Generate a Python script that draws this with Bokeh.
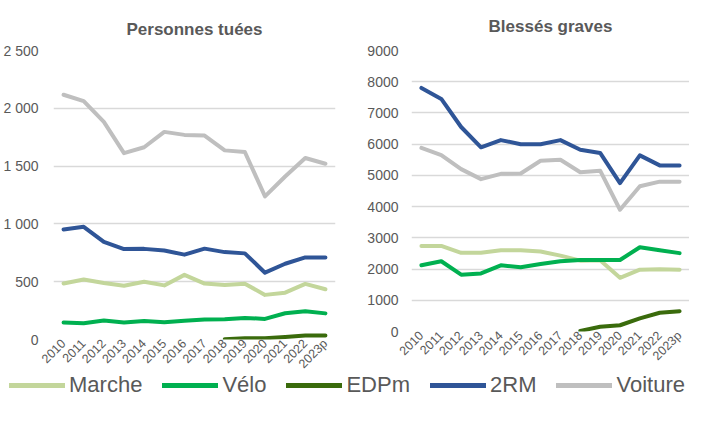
import math
from bokeh.plotting import figure
from bokeh.models import FactorRange, Range1d, Legend, LegendItem, FixedTicker, ColumnDataSource
from bokeh.layouts import column, row
from bokeh.embed import file_html
from bokeh.resources import INLINE

years = ["2010", "2011", "2012", "2013", "2014", "2015", "2016", "2017",
         "2018", "2019", "2020", "2021", "2022", "2023p"]
nan = float("nan")

series_names = ["Marche", "Vélo", "EDPm", "2RM", "Voiture"]
series_colors = ["#c3d69b", "#00b050", "#3a6b0c", "#2f5597", "#bfbfbf"]

# Personnes tuées
tues_marche = [485, 519, 489, 465, 499, 468, 559, 484, 471, 483, 386, 405, 481, 435]
tues_velo = [147, 141, 164, 147, 159, 149, 162, 173, 175, 187, 178, 227, 245, 226]
tues_edpm = [nan, nan, nan, nan, nan, nan, nan, nan, 2, 10, 10, 22, 34, 35]
tues_2rm = [952, 975, 845, 782, 784, 770, 734, 786, 756, 745, 578, 655, 710, 710]
tues_voiture = [2117, 2062, 1882, 1612, 1663, 1796, 1770, 1764, 1636, 1622, 1238, 1410, 1570, 1520]
tues_ticks = [0, 500, 1000, 1500, 2000, 2500]
tues_tick_labels = ["0", "500", "1 000", "1 500", "2 000", "2 500"]

# Blessés graves
bg_marche = [2740, 2740, 2520, 2520, 2600, 2600, 2560, 2430, 2270, 2280, 1720, 1980, 1990, 1980]
bg_velo = [2120, 2250, 1820, 1860, 2120, 2060, 2160, 2250, 2290, 2290, 2290, 2700, 2600, 2510]
bg_edpm = [nan, nan, nan, nan, nan, nan, nan, nan, 20, 150, 200, 420, 600, 650]
bg_2rm = [7800, 7450, 6550, 5900, 6130, 6000, 6000, 6130, 5820, 5720, 4750, 5640, 5320, 5320]
bg_voiture = [5880, 5650, 5200, 4880, 5050, 5060, 5470, 5500, 5100, 5150, 3900, 4650, 4800, 4800]
bg_ticks = [0, 1000, 2000, 3000, 4000, 5000, 6000, 7000, 8000, 9000]
bg_tick_labels = [str(t) for t in bg_ticks]

FONT = "Liberation Sans"
GREY = "#595959"


def make_panel(title, series, ymax, ticks, labels, fw, fh, right, standoff, ylab_standoff):
    p = figure(x_range=FactorRange(*years), y_range=Range1d(0, ymax),
               frame_width=fw, frame_height=fh, output_backend="svg", toolbar_location=None,
               min_border_left=0, min_border_right=right, min_border_top=0, min_border_bottom=0)
    p.title.text = title
    p.title.align = "center"
    p.title.text_font = FONT
    p.title.text_font_size = "17px"
    p.title.text_font_style = "bold"
    p.title.text_color = GREY
    p.title.standoff = standoff
    p.outline_line_color = None
    p.xgrid.grid_line_color = None
    p.ygrid.grid_line_color = "#d9d9d9"
    p.ygrid.grid_line_width = 1.5
    p.yaxis.ticker = FixedTicker(ticks=ticks)
    p.yaxis.major_label_overrides = {t: l for t, l in zip(ticks, labels)}
    for ax in (p.xaxis, p.yaxis):
        ax.axis_label = None
        ax.axis_line_color = None
        ax.major_tick_line_color = None
        ax.minor_tick_line_color = None
        ax.major_tick_out = 0
        ax.major_tick_in = 0
        ax.minor_tick_out = 0
        ax.axis_label_standoff = 0
        ax.major_label_text_font = FONT
        ax.major_label_text_color = GREY
    p.yaxis.major_label_text_font_size = "14px"
    p.yaxis.major_label_standoff = ylab_standoff
    p.xaxis.major_label_text_font_size = "12.5px"
    p.xaxis.major_label_orientation = math.pi / 4
    p.xaxis.major_label_standoff = 2
    for vals, color in zip(series, series_colors):
        src = ColumnDataSource(dict(x=years, y=vals))
        p.line("x", "y", source=src, line_color=color, line_width=4, line_join="round", line_cap="round")
    return p


p1 = make_panel("Personnes tuées",
                [tues_marche, tues_velo, tues_edpm, tues_2rm, tues_voiture],
                2500, tues_ticks, tues_tick_labels, 282, 289, 29, 24, 15)
p2 = make_panel("Blessés graves",
                [bg_marche, bg_velo, bg_edpm, bg_2rm, bg_voiture],
                9000, bg_ticks, bg_tick_labels, 278, 281, 0, 29, 13)

# Legend strip
pl = figure(width=694, height=24, output_backend="svg", toolbar_location=None,
            min_border=0, x_range=Range1d(0, 1), y_range=Range1d(0, 1))
pl.axis.visible = False
pl.grid.visible = False
pl.outline_line_color = None
items = []
for name, color in zip(series_names, series_colors):
    r = pl.line(x=[5, 6], y=[5, 6], line_color=color, line_width=5, line_cap="round")
    items.append(LegendItem(label=name, renderers=[r]))
leg = Legend(items=items, orientation="horizontal", location="center",
             glyph_width=56, glyph_height=20, label_height=20, label_standoff=4, spacing=20,
             label_text_font=FONT, label_text_font_size="22px",
             label_text_color=GREY, border_line_color=None, background_fill_alpha=0,
             padding=0, margin=0)
pl.add_layout(leg, "center")

layout = column(row(p1, p2), pl)
open("out.html", "w").write(file_html(layout, INLINE))
